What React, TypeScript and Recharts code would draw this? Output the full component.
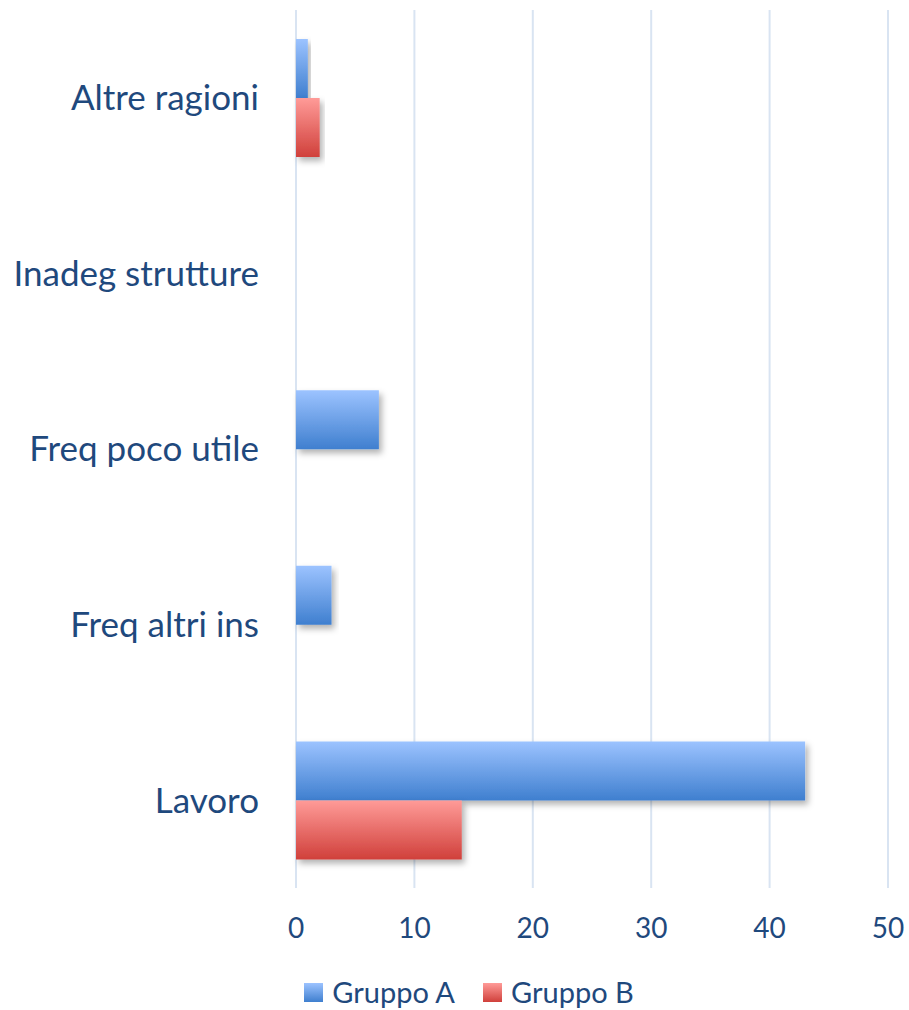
import React from 'react';
import { BarChart, Bar, XAxis, YAxis, CartesianGrid, Legend } from 'recharts';

const categories = ['Altre ragioni', 'Inadeg strutture', 'Freq poco utile', 'Freq altri ins', 'Lavoro'];
const gruppoA = [1, 0, 7, 3, 43];
const gruppoB = [2, 0, 0, 0, 14];
const xTicks = [0, 10, 20, 30, 40, 50];

const data = categories.map((name, i) => ({ name, a: gruppoA[i], b: gruppoB[i] }));

const textColor = '#1f497d';
const font = 'Lato, "Open Sans", sans-serif';

const legendItems = [
    { label: 'Gruppo A', grad: 'url(#gradA)' },
    { label: 'Gruppo B', grad: 'url(#gradB)' },
];

// legend box is drawn by hand so the swatches can use the same gradients
const LegendBox = () => (
    <div
        style={{
            display: 'flex',
            justifyContent: 'center',
            gap: 28,
            height: 52,
            boxSizing: 'border-box',
            paddingTop: 16,
            paddingLeft: 50,
            fontFamily: font,
            fontSize: 29,
            lineHeight: '30px',
            color: textColor,
        }}
    >
        {legendItems.map((it) => (
            <div key={it.label} style={{ display: 'flex', alignItems: 'center', gap: 9 }}>
                <svg width={19} height={19}>
                    <rect width={19} height={19} fill={it.grad} />
                </svg>
                <span>{it.label}</span>
            </div>
        ))}
    </div>
);

export default function App() {
    return (
        <div style={{ position: 'absolute', left: 0, top: 0, background: '#fff' }}>
            <BarChart
                width={909}
                height={1010}
                data={data}
                layout="vertical"
                margin={{ top: 10, right: 21, left: 0, bottom: 0 }}
                barGap={0}
                barSize={59}
            >
                <defs>
                    <linearGradient id="gradA" x1="0" y1="0" x2="0" y2="1">
                        <stop offset="0%" stopColor="#9cc3ff" />
                        <stop offset="100%" stopColor="#3f7fcf" />
                    </linearGradient>
                    <linearGradient id="gradB" x1="0" y1="0" x2="0" y2="1">
                        <stop offset="0%" stopColor="#ff9b98" />
                        <stop offset="100%" stopColor="#d0403b" />
                    </linearGradient>
                    <filter id="shadow" x="-10%" y="-10%" width="130%" height="150%">
                        <feDropShadow dx="3" dy="4" stdDeviation="3" floodColor="#000" floodOpacity="0.3" />
                    </filter>
                </defs>
                <CartesianGrid horizontal={false} stroke="#d9e4f2" strokeWidth={2} />
                <XAxis
                    type="number"
                    domain={[0, 50]}
                    ticks={xTicks}
                    axisLine={false}
                    tickLine={false}
                    tickSize={0}
                    tickMargin={30}
                    height={70}
                    tick={{ fill: textColor, fontSize: 28, fontFamily: font }}
                />
                <YAxis
                    type="category"
                    dataKey="name"
                    width={296}
                    axisLine={false}
                    tickLine={false}
                    tickSize={0}
                    tickMargin={37}
                    tick={{ fill: textColor, fontSize: 35, fontFamily: font }}
                />
                <Legend verticalAlign="bottom" content={() => <LegendBox />} />
                <Bar dataKey="a" name="Gruppo A" fill="url(#gradA)" filter="url(#shadow)" isAnimationActive={false} />
                <Bar dataKey="b" name="Gruppo B" fill="url(#gradB)" filter="url(#shadow)" isAnimationActive={false} />
            </BarChart>
        </div>
    );
}
